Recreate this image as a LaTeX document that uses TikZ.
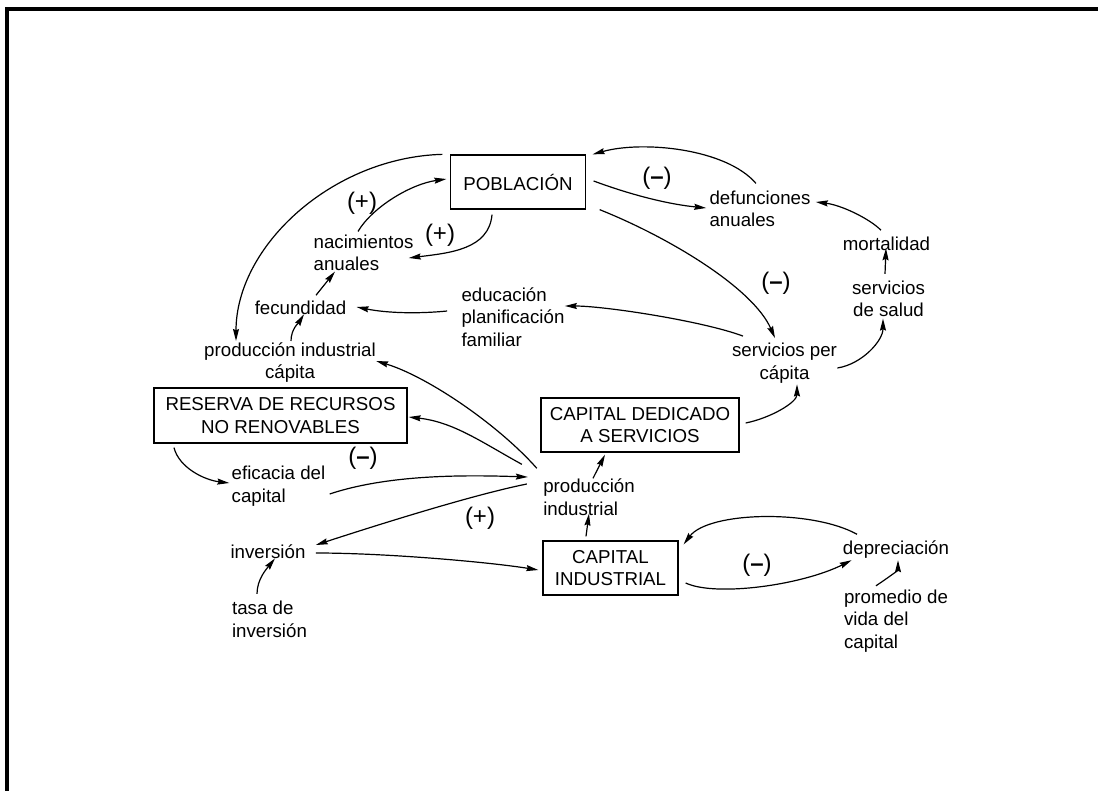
\documentclass[tikz,border=0pt]{standalone}
\usepackage{fontspec}
\setmainfont{Liberation Sans}
\usetikzlibrary{arrows.meta}

\begin{document}
\begin{tikzpicture}[x=0.5pt, y=0.5pt,
        every node/.style = {font = \fontsize{9.35}{11.3}\selectfont, inner sep = 2pt},
        stock/.style = {draw, line width = 0.65pt, minimum height = 27pt, align = center},
        aux/.style = {align = left},
        auxc/.style = {align = center},
        sign/.style = {font = \fontsize{12}{13}\selectfont},
        link/.style = {line width = 0.6pt, -{Stealth[length = 6pt, width = 3pt, inset = 0.7pt]}}]
        \useasboundingbox (0, 0) rectangle (1098, -791);
        \draw[line width = 2pt] (1098, -9) -- (6.5, -9) -- (6.5, -791);
        % niveles y variables
        \node[stock, minimum width = 67.5pt] (pob) at (518, -182) {POBLACIÓN};
        \node[aux] (nac) at (363.5, -253) {nacimientos\\anuales};
        \node[aux] (def) at (760, -209) {defunciones\\anuales};
        \node (mort) at (886.5, -244) {mortalidad};
        \node[auxc] (salud) at (888.5, -299) {servicios\\de salud};
        \node[auxc] (spc) at (784.5, -363) {servicios per\\cápita};
        \node[aux] (edu) at (513, -317) {educación\\planificación\\familiar};
        \node (fec) at (300.5, -308) {fecundidad};
        \node[auxc] (pic) at (290, -362.5) {producción industrial\\cápita};
        \node[stock, minimum width = 126.5pt, minimum height = 27.5pt] (rnr) at (280.5, -415.5) {RESERVA DE RECURSOS\\NO RENOVABLES};
        \node[stock, minimum width = 99pt] (csv) at (640, -425) {CAPITAL DEDICADO\\A SERVICIOS};
        \node[aux] (prod) at (589, -497) {producción\\industrial};
        \node[aux] (efic) at (278.5, -486) {eficacia del\\capital};
        \node (inv) at (268, -552) {inversión};
        \node[aux] (tasa) at (269.5, -619.5) {tasa de\\inversión};
        \node[stock, minimum width = 67.5pt] (cind) at (610.5, -568) {CAPITAL\\INDUSTRIAL};
        \node (dep) at (896, -550) {depreciación};
        \node[aux] (prom) at (896, -621) {promedio de\\vida del\\capital};
        % signos de los lazos
        \node[sign] (s1) at (362, -203) {(+)};
        \node[sign] (s2) at (440, -235) {(+)};
        \node[sign] (s3) at (657, -178) {(\textbf{–})};
        \node[sign] (s4) at (776, -283) {(\textbf{–})};
        \node[sign] (s5) at (363, -458) {(\textbf{–})};
        \node[sign] (s6) at (480, -518) {(+)};
        \node[sign] (s7) at (757, -565) {(\textbf{–})};
        % lazo de poblacion
        \draw[link] ([shift = {(-7.5, 0)}]pob.north west) .. controls +(-110, -3) and +(0, 95) .. ([shift = {(-54, -3)}]pic.north);
        \draw[link] ([shift = {(-5.5, -1)}]nac.north) .. controls +(15, 25) and +(-35, -5) .. ([shift = {(-3.5, 3)}]pob.west);
        \draw[link] ([shift = {(-26, -5)}]pob.south) .. controls +(-3, -35) and +(40, 5) .. ([shift = {(-9, -5)}]nac.east);
        \draw[link] ([shift = {(15.5, 1.5)}]fec.north) -- ([shift = {(-28.5, 4)}]nac.south);
        \draw[link] ([shift = {(1, -3)}]pic.north) .. controls +(0, 12) and +(-5, -8) .. ([shift = {(3.5, 5)}]fec.south);
        \draw[link] ([shift = {(-10, 6)}]edu.west) .. controls +(-30, -3) and +(30, -6) .. ([shift = {(6, 1)}]fec.east);
        \draw[link] ([shift = {(-41.5, 2.5)}]spc.north) .. controls +(-40, 15) and +(40, 0) .. ([shift = {(-4, 11)}]edu.east);
        \draw[link] ([shift = {(7.5, 1)}]pob.east) .. controls +(35, -13) and +(-40, 4) .. ([shift = {(1, 1)}]def.west);
        \draw[link] ([shift = {(-4, 3)}]def.north) .. controls +(-30, 35) and +(50, 14) .. ([shift = {(6.5, 0)}]pob.north east);
        \draw[link] ([shift = {(-5.5, 2.5)}]mort.north) .. controls +(-12, 12) and +(25, -3) .. ([shift = {(1, 7)}]def.east);
        \draw[link] ([shift = {(-3.5, 2.5)}]salud.north) -- ([shift = {(-0.5, 7)}]mort.south);
        \draw[link] ([shift = {(-4, -5)}]spc.east) .. controls +(25, 4) and +(0, -22) .. ([shift = {(-5.5, 3)}]salud.south);
        \draw[link] ([shift = {(13.5, 0)}]pob.south east) .. controls +(70, -28) and +(-22, 50) .. ([shift = {(-9.5, 0.5)}]spc.north);
        % lazo de capital
        \draw[link] ([shift = {(6, 2)}]csv.east) .. controls +(25, 5) and +(0, -18) .. ([shift = {(12.5, 3)}]spc.south);
        \draw[link] ([shift = {(4, -4)}]prod.north) -- ([shift = {(-35, -2)}]csv.south);
        \draw[link] ([shift = {(-24.5, 4)}]cind.north) -- ([shift = {(0, 6)}]prod.south);
        \draw[link] ([shift = {(-2, 6)}]prod.north west) .. controls +(-40, 45) and +(50, -15) .. ([shift = {(-4, 1.5)}]pic.east);
        \draw[link] ([shift = {(-17, 10)}]prod.north west) .. controls +(-40, 22) and +(45, -5) .. ([shift = {(1, -1.5)}]rnr.east);
        \draw[link] ([shift = {(-106.5, -4)}]rnr.south) .. controls +(5, -20) and +(-25, 3) .. ([shift = {(2, 3)}]efic.west);
        \draw[link] ([shift = {(0, -8)}]efic.east) .. controls +(60, 20) and +(-60, 2) .. ([shift = {(-11, 20)}]prod.west);
        \draw[link] ([shift = {(-12, 13)}]prod.west) .. controls +(-60, -12) and +(40, 13) .. ([shift = {(6, 7)}]inv.east);
        \draw[link] ([shift = {(6, -1)}]inv.east) .. controls +(70, 0) and +(-50, 8) .. ([shift = {(-4, -2)}]cind.west);
        \draw[link] ([shift = {(-12.5, 3)}]tasa.north) .. controls +(0, 15) and +(-8, -10) .. ([shift = {(7, 5)}]inv.south);
        \draw[link] ([shift = {(-39, 2.5)}]dep.north) .. controls +(-45, 25) and +(25, 33) .. ([shift = {(5, -4)}]cind.north east);
        \draw[link] ([shift = {(7, -15)}]cind.east) .. controls +(30, -14) and +(-50, -25) .. ([shift = {(13, 3)}]dep.south west);
        \draw[link] ([shift = {(-20, -0.5)}]prom.north) .. controls +(12, 8) and +(0, -10) .. ([shift = {(2, 3)}]dep.south);
    \end{tikzpicture}
\end{document}
